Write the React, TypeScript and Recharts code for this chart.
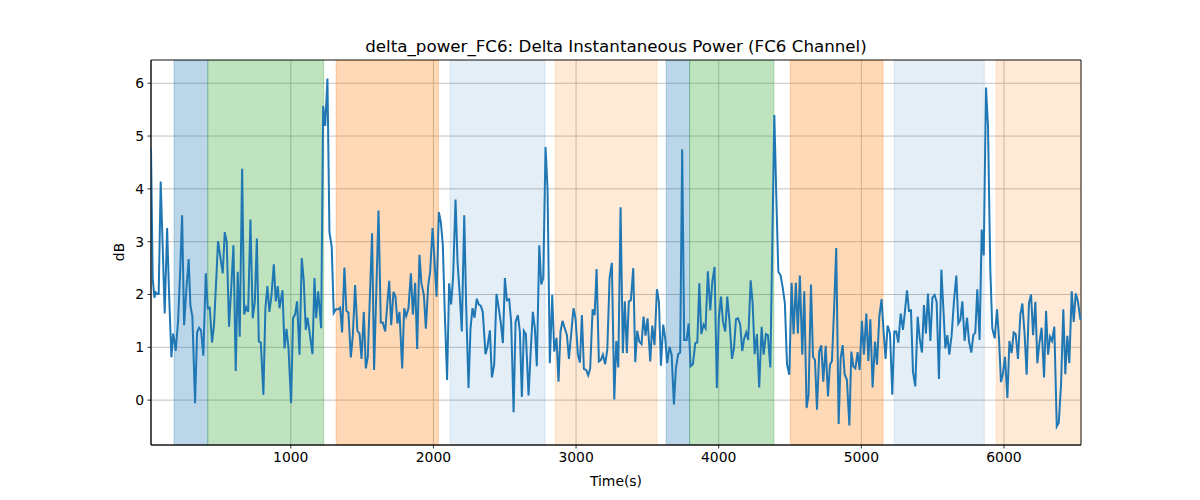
import React from 'react';
import { LineChart, Line, XAxis, YAxis, CartesianGrid, ReferenceArea } from 'recharts';

// sample times (s)
const TIME_S = [
  20, 32, 44, 53, 65, 74, 88, 102, 116, 133,
  147, 163, 175, 184, 193, 210, 224, 238, 252, 268,
  284, 296, 310, 329, 343, 357, 371, 387, 404, 418,
  432, 448, 462, 476, 490, 504, 523, 537, 551, 567,
  582, 598, 614, 628, 642, 659, 673, 687, 701, 717,
  733, 748, 762, 776, 790, 808, 822, 836, 850, 864,
  881, 895, 909, 921, 942, 956, 970, 984, 1002, 1016,
  1030, 1044, 1061, 1077, 1091, 1105, 1117, 1131, 1152, 1166,
  1178, 1192, 1213, 1227, 1241, 1257, 1271, 1287, 1301, 1316,
  1331, 1346, 1360, 1376, 1390, 1404, 1421, 1435, 1451, 1467,
  1482, 1496, 1512, 1526, 1540, 1555, 1570, 1584, 1600, 1615,
  1631, 1645, 1662, 1676, 1690, 1704, 1720, 1734, 1748, 1762,
  1781, 1795, 1809, 1825, 1842, 1856, 1872, 1886, 1902, 1916,
  1933, 1947, 1963, 1977, 1994, 2008, 2022, 2038, 2052, 2066,
  2080, 2096, 2110, 2124, 2138, 2155, 2169, 2185, 2199, 2216,
  2230, 2246, 2260, 2274, 2288, 2304, 2318, 2332, 2346, 2365,
  2379, 2396, 2410, 2426, 2442, 2459, 2473, 2487, 2501, 2515,
  2531, 2545, 2562, 2576, 2592, 2606, 2620, 2634, 2648, 2667,
  2683, 2697, 2711, 2725, 2742, 2756, 2770, 2786, 2800, 2816,
  2833, 2847, 2863, 2877, 2891, 2905, 2922, 2936, 2950, 2966,
  2982, 2996, 3013, 3027, 3041, 3055, 3071, 3085, 3099, 3116,
  3130, 3144, 3160, 3174, 3188, 3204, 3219, 3235, 3251, 3268,
  3282, 3296, 3312, 3328, 3342, 3356, 3370, 3384, 3401, 3415,
  3429, 3443, 3459, 3473, 3487, 3501, 3520, 3534, 3550, 3567,
  3581, 3595, 3611, 3625, 3639, 3655, 3670, 3686, 3700, 3716,
  3730, 3744, 3758, 3775, 3789, 3803, 3819, 3836, 3850, 3864,
  3878, 3894, 3908, 3924, 3941, 3955, 3971, 3987, 4001, 4016,
  4030, 4046, 4060, 4076, 4093, 4107, 4121, 4135, 4151, 4165,
  4179, 4193, 4207, 4224, 4238, 4252, 4268, 4284, 4301, 4315,
  4331, 4345, 4362, 4390, 4404, 4418, 4434, 4450, 4464, 4479,
  4495, 4511, 4525, 4541, 4555, 4569, 4586, 4600, 4616, 4630,
  4647, 4661, 4675, 4689, 4705, 4719, 4733, 4750, 4766, 4780,
  4794, 4810, 4824, 4841, 4855, 4869, 4883, 4899, 4916, 4930,
  4944, 4958, 4974, 4988, 5004, 5018, 5035, 5049, 5063, 5079,
  5096, 5110, 5126, 5142, 5156, 5170, 5184, 5201, 5217, 5231,
  5245, 5259, 5276, 5292, 5306, 5320, 5334, 5348, 5362, 5378,
  5395, 5409, 5425, 5439, 5453, 5467, 5484, 5498, 5514, 5528,
  5544, 5561, 5575, 5589, 5603, 5617, 5633, 5649, 5666, 5680,
  5694, 5708, 5724, 5741, 5755, 5771, 5785, 5799, 5813, 5829,
  5844, 5858, 5874, 5888, 5904, 5918, 5935, 5951, 5965, 5979,
  5993, 6007, 6024, 6038, 6054, 6068, 6082, 6098, 6115, 6129,
  6145, 6159, 6175, 6190, 6204, 6220, 6234, 6248, 6264, 6281,
  6295, 6309, 6323, 6337, 6353, 6370, 6384, 6400, 6416, 6430,
  6444, 6458, 6475, 6489, 6503, 6517, 6536,
];

// delta power (dB) at each sample
const DB_VALUES = [
  4.75, 2.3, 1.94, 2.04, 2.01, 2.01, 4.14, 2.9, 1.64, 3.26,
  1.99, 0.81, 1.26, 1.12, 0.93, 1.5, 2.4, 3.5, 1.42, 2.1,
  2.67, 1.8, 1.58, -0.06, 1.28, 1.37, 1.32, 0.84, 2.4, 1.74,
  1.75, 1.09, 1.43, 2.2, 3.01, 2.75, 2.4, 3.18, 2.99, 1.39,
  2.1, 2.93, 0.55, 2.43, 1.2, 4.38, 1.62, 1.76, 1.67, 3.42,
  1.55, 1.86, 3.06, 1.11, 1.09, 0.1, 1.74, 2.16, 1.67, 1.96,
  2.57, 1.87, 2.16, 1.74, 2.08, 0.98, 1.35, 0.98, -0.06, 1.55,
  1.62, 1.87, 0.86, 2.69, 2.26, 1.33, 1.56, 1.3, 0.87, 2.31,
  1.55, 2.06, 1.36, 5.57, 5.19, 6.09, 3.18, 2.9, 1.65, 1.72,
  1.72, 1.75, 1.28, 2.51, 1.69, 1.66, 0.81, 1.23, 2.18, 1.31,
  1.26, 0.78, 1.67, 0.6, 0.82, 2.0, 3.16, 0.57, 2.1, 3.59,
  1.47, 1.47, 1.3, 1.8, 2.26, 1.42, 2.05, 1.96, 1.45, 1.67,
  0.6, 1.74, 1.59, 1.74, 2.4, 1.62, 2.22, 0.97, 2.75, 2.21,
  1.99, 1.35, 2.16, 2.43, 3.26, 2.62, 1.96, 3.56, 3.37, 2.93,
  1.61, 0.38, 2.21, 1.81, 2.33, 3.8, 2.62, 1.97, 1.3, 3.5,
  1.74, 0.23, 1.36, 1.74, 1.56, 1.92, 1.81, 1.79, 1.67, 0.87,
  1.01, 1.32, 0.43, 0.67, 2.01, 1.72, 1.45, 1.08, 2.31, 1.89,
  1.91, 1.48, -0.23, 1.48, 1.61, 1.3, 0.06, 1.31, 1.25, 0.09,
  0.98, 1.67, 1.37, 0.64, 2.93, 2.19, 2.31, 4.79, 4.0, 0.7,
  1.99, 0.92, 1.18, 0.35, 1.3, 1.5, 1.35, 1.23, 0.78, 1.26,
  1.74, 1.55, 0.86, 0.71, 1.61, 0.59, 0.57, 0.47, 0.6, 1.72,
  1.61, 2.48, 0.73, 0.76, 0.86, 0.68, 0.95, 2.31, 2.6, 0.01,
  1.12, 0.62, 3.65, 0.89, 1.87, 0.89, 1.87, 1.89, 2.5, 0.72,
  1.31, 1.11, 1.06, 1.58, 1.22, 1.55, 0.73, 1.41, 1.04, 2.1,
  1.86, 0.65, 1.43, 1.17, 0.7, 1.01, 0.86, -0.08, 0.6, 0.87,
  0.9, 4.75, 1.14, 1.14, 1.45, 0.64, 0.68, 1.08, 1.09, 2.21,
  1.25, 1.43, 1.36, 2.44, 1.7, 2.24, 2.52, 0.23, 1.55, 1.96,
  1.48, 1.3, 1.96, 1.48, 0.78, 0.98, 1.53, 1.55, 1.43, 0.93,
  1.17, 1.28, 1.14, 2.27, 1.83, 0.87, 1.25, 0.24, 1.39, 0.86,
  1.25, 1.23, 0.62, 5.4, 3.84, 2.43, 2.36, 2.11, 1.83, 0.67,
  0.48, 2.22, 1.25, 2.22, 1.26, 2.36, 0.86, 2.06, -0.15, 0.1,
  2.19, 0.82, 0.76, -0.18, 0.92, 1.04, 0.35, 1.03, 0.07, 0.67,
  0.74, 1.8, 2.88, -0.45, 0.79, 1.04, 0.49, 0.38, -0.48, 0.92,
  0.64, 0.6, 0.91, 0.57, 1.5, 0.86, 1.64, 0.74, 1.53, 0.24,
  1.11, 0.67, 1.58, 1.91, 1.3, 0.78, 1.41, 1.26, 0.1, 1.3,
  1.3, 1.09, 1.64, 1.33, 1.69, 2.08, 1.69, 1.7, 0.54, 0.26,
  1.58, 1.17, 0.9, 1.8, 1.26, 2.02, 1.12, 1.94, 1.99, 1.86,
  0.4, 2.47, 1.74, 0.98, 1.23, 0.86, 1.23, 1.86, 2.36, 1.45,
  1.52, 1.87, 1.12, 1.56, 1.11, 0.9, 1.23, 1.28, 2.1, 1.14,
  3.23, 2.74, 5.92, 5.19, 2.49, 1.36, 1.17, 1.72, 1.17, 0.34,
  0.51, 0.82, 0.04, 1.12, 0.89, 1.28, 1.25, 0.78, 1.62, 1.83,
  1.23, 0.48, 1.83, 2.0, 1.23, 1.86, 0.7, 1.08, 1.37, 0.43,
  1.69, 0.86, 1.2, 1.12, 1.39, -0.5, -0.43, 0.29, 1.72, 0.49,
  1.22, 0.7, 2.06, 1.48, 2.02, 1.89, 1.52,
];

// shaded segments
const BAND_START = [182, 418, 1318, 2117, 2854, 3632, 3796, 4502, 5231, 5945];
const BAND_END = [418, 1231, 2035, 2783, 3567, 3796, 4387, 5152, 5862, 6540];
const BAND_COLOR = ['#1f77b4', '#2ca02c', '#ff7f0e', '#1f77b4', '#ff7f0e', '#1f77b4', '#2ca02c', '#ff7f0e', '#1f77b4', '#ff7f0e'];
const BAND_ALPHA = [0.3, 0.3, 0.3, 0.12, 0.16, 0.3, 0.3, 0.3, 0.12, 0.16];

const X_TICKS = [1000, 2000, 3000, 4000, 5000, 6000];
const Y_TICKS = [0, 1, 2, 3, 4, 5, 6];
const X_MIN = 20;
const X_MAX = 6540;
const Y_MIN = -0.85;
const Y_MAX = 6.44;

const FONT = '"DejaVu Sans", sans-serif';

const App: React.FC = () => {
  const data = TIME_S.map((t, i) => ({ t, v: DB_VALUES[i] }));

  return (
    <div style={{ position: 'absolute', left: 0, top: 0, width: 1200, height: 500, background: '#fff', fontFamily: FONT }}>
      <LineChart width={1200} height={500} data={data} margin={{ top: 60, right: 119, bottom: 0, left: 0 }}>
        {BAND_START.map((s, i) => (
          <ReferenceArea
            key={`band-${i}`}
            x1={s}
            x2={BAND_END[i]}
            y1={Y_MIN}
            y2={Y_MAX}
            fill={BAND_COLOR[i]}
            fillOpacity={BAND_ALPHA[i]}
            stroke={BAND_COLOR[i]}
            strokeOpacity={BAND_ALPHA[i]}
            ifOverflow="hidden"
          />
        ))}
        <CartesianGrid stroke="#b0b0b0" strokeWidth={0.8} />
        <XAxis
          dataKey="t"
          type="number"
          domain={[X_MIN, X_MAX]}
          ticks={X_TICKS}
          allowDataOverflow
          height={55}
          tickSize={3.5}
          tickMargin={3.5}
          axisLine={{ stroke: '#000', strokeWidth: 0.8 }}
          tickLine={{ stroke: '#000', strokeWidth: 0.8 }}
          tick={{ fill: '#000', fontSize: 13.9, fontFamily: FONT }}
        />
        <YAxis
          type="number"
          domain={[Y_MIN, Y_MAX]}
          ticks={Y_TICKS}
          allowDataOverflow
          width={151}
          tickSize={3.5}
          tickMargin={3.5}
          axisLine={{ stroke: '#000', strokeWidth: 0.8 }}
          tickLine={{ stroke: '#000', strokeWidth: 0.8 }}
          tick={{ fill: '#000', fontSize: 13.9, fontFamily: FONT }}
        />
        <Line
          type="linear"
          dataKey="v"
          stroke="#1f77b4"
          strokeWidth={2}
          dot={false}
          activeDot={false}
          isAnimationActive={false}
        />
        <ReferenceArea x1={X_MIN} x2={X_MAX} y1={Y_MIN} y2={Y_MAX} fill="none" stroke="#000" strokeWidth={0.8} />
      </LineChart>
      <div style={{ position: 'absolute', left: 151, width: 930, top: 36, height: 20, lineHeight: '20px', textAlign: 'center', fontSize: 16.7 }}>
        delta_power_FC6: Delta Instantaneous Power (FC6 Channel)
      </div>
      <div style={{ position: 'absolute', left: 151, width: 930, top: 471, height: 20, lineHeight: '20px', textAlign: 'center', fontSize: 13.9 }}>
        Time(s)
      </div>
      <div style={{ position: 'absolute', left: 99, top: 242, width: 40, height: 20, lineHeight: '20px', textAlign: 'center', fontSize: 13.9, transform: 'rotate(-90deg)' }}>
        dB
      </div>
    </div>
  );
};

export default App;
